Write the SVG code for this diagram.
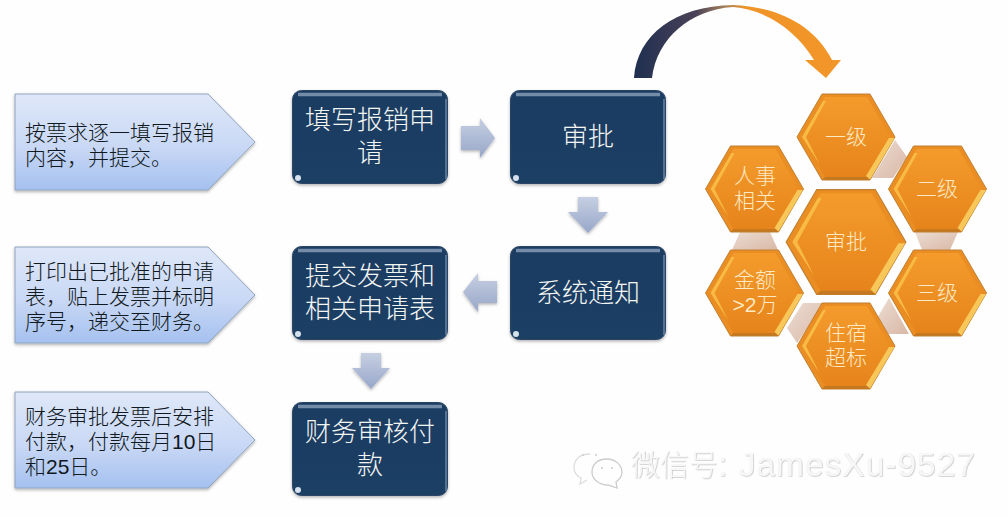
<svg xmlns="http://www.w3.org/2000/svg" width="1008" height="517" viewBox="0 0 1008 517">
<style>
text{font-family:"Liberation Sans","Noto Sans CJK SC",sans-serif;text-anchor:middle}
.b{fill:#f4f6f4;font-size:26px;font-weight:300}
.p{fill:#101820;font-size:21px;text-anchor:start;font-weight:300}
.h{fill:#fde9c4;font-size:21px;font-weight:300}
.w{fill:#f7f7f7;font-size:29px;font-weight:300;text-anchor:start;filter:url(#em)}
.wl{font-size:33.500px;letter-spacing:1px}
.link{fill:url(#lk)}
.ar{fill:url(#ag);filter:url(#s)}
.bx{fill:url(#bg);stroke:#2a4566;stroke-width:1;filter:url(#s)}
.pn{fill:url(#pg);stroke:#8fa4bd;stroke-width:1;filter:url(#s)}
</style>
<defs>
<linearGradient id="bg" x1="0" y1="0" x2="0" y2="1"><stop offset="0" stop-color="#1f3d62"/><stop offset="1" stop-color="#1e3f63"/></linearGradient>
<linearGradient id="pg" x1="0" y1="0" x2="0" y2="1"><stop offset="0" stop-color="#dfe8f9"/><stop offset=".55" stop-color="#c9d8f5"/><stop offset="1" stop-color="#a5c1f0"/></linearGradient>
<linearGradient id="ag" x1="0" y1="0" x2="0" y2="1"><stop offset="0" stop-color="#c6cfe2"/><stop offset="1" stop-color="#98a7c9"/></linearGradient>
<linearGradient id="lk" x1="0" y1="0" x2="1" y2="1"><stop offset="0" stop-color="#ecdcd2"/><stop offset="1" stop-color="#d9b8a6"/></linearGradient>
<linearGradient id="cv" gradientUnits="userSpaceOnUse" x1="634" y1="0" x2="842" y2="0"><stop offset="0" stop-color="#1f2f50"/><stop offset=".3" stop-color="#4a4258"/><stop offset=".44" stop-color="#a8835c"/><stop offset=".54" stop-color="#ef9428"/><stop offset="1" stop-color="#f3962a"/></linearGradient>
<linearGradient id="hg" x1="0" y1="0" x2="0" y2="1"><stop offset="0" stop-color="#f49b2c"/><stop offset="1" stop-color="#e6841b"/></linearGradient>
<filter id="s" x="-10%" y="-10%" width="120%" height="125%"><feDropShadow dx="0" dy="1.5" stdDeviation="1.5" flood-color="#000" flood-opacity=".3"/></filter>
<filter id="em" x="-2%" y="-10%" width="104%" height="120%"><feDropShadow dx=".6" dy=".6" stdDeviation=".25" flood-color="#aaa" flood-opacity=".8"/></filter>
<g id="hex">
<polygon points="-49,0 -24,-43 24,-43 49,0 24,43 -24,43" fill="#ea8d22" stroke="#c08032" stroke-width="1"/>
<polygon points="-44,0 -21,-40 21,-40 44,0 21,40 -21,40" fill="url(#hg)"/>
<polygon points="-44,0 -23,-36 -20,-36 -40,0 -26,28" fill="#f9c24a" opacity=".85"/>
<polygon points="48.500,1 24,42.500 20,39 43,1" fill="#f8c75a"/>
<polygon points="-24,43 24,43 21,40 -21,40" fill="#c4781f"/>
</g>
<g id="gloss">
<path d="M5 3.500H149" stroke="#8aa0b9" stroke-width="3.500" opacity=".8"/>
<path d="M153 8V88" stroke="#6d89a8" stroke-width="2" opacity=".7"/>
<circle cx="5" cy="87" r="3" fill="#d5e2ee"/>
</g>
</defs>
<rect width="1008" height="517" fill="#fefefe"/>
<g id="connectors">
<polygon class="link" points="895,140 907,157 893,178 872,178"/>
<polygon class="link" points="915,232 958,232 950,250 922,250"/>
<polygon class="link" points="889,298 876,320 885,334 909,334"/>
<polygon class="link" points="803,303 825,303 797,343 787,328"/>
<polygon class="link" points="740,232 770,232 778,250 732,250"/>
<polygon class="ar" points="461,126 480,126 480,118 495,138 480,158 480,150 461,150"/>
<polygon class="ar" points="578,197 598,197 598,212 608,212 588,233 568,212 578,212"/>
<polygon class="ar" points="497,281 478,281 478,273 463,292 478,312 478,303 497,303"/>
<polygon class="ar" points="361,353 381,353 381,368 390,368 371,389 352,368 361,368"/>
<path d="M634 78C637 35 675 6 733 5C782 7 816 28 832 60L841 60L826 78L805 60L814 60C797 32 768 10 733 7C690 10 657 38 652 78Z" fill="url(#cv)"/>
</g>
<g id="note1"><polygon class="pn" points="15,94 208,94 255,142 208,190 15,190"/><text class="p" y="140"><tspan x="25">按票求逐一填写报销</tspan><tspan x="25" dy="25">内容，并提交。</tspan></text></g>
<g id="note2"><polygon class="pn" points="15,247 208,247 255,295 208,343 15,343"/><text class="p" y="279"><tspan x="25">打印出已批准的申请</tspan><tspan x="25" dy="25">表，贴上发票并标明</tspan><tspan x="25" dy="25">序号，递交至财务。</tspan></text></g>
<g id="note3"><polygon class="pn" points="15,392 208,392 255,440 208,488 15,488"/><text class="p" y="424"><tspan x="25">财务审批发票后安排</tspan><tspan x="25" dy="25">付款，付款每月10日</tspan><tspan x="25" dy="25">和25日。</tspan></text></g>
<g id="box1"><rect class="bx" x="292.500" y="90.500" width="155" height="93" rx="9"/><use href="#gloss" x="293" y="91"/><text class="b" y="129"><tspan x="370">填写报销申</tspan><tspan x="370" dy="33">请</tspan></text></g>
<g id="box2"><rect class="bx" x="510.500" y="90.500" width="155" height="93" rx="9"/><use href="#gloss" x="511" y="91"/><text class="b" x="588" y="146">审批</text></g>
<g id="box3"><rect class="bx" x="510.500" y="246.500" width="155" height="93" rx="9"/><use href="#gloss" x="511" y="247"/><text class="b" x="588" y="302">系统通知</text></g>
<g id="box4"><rect class="bx" x="292.500" y="246.500" width="155" height="93" rx="9"/><use href="#gloss" x="293" y="247"/><text class="b" y="285"><tspan x="370">提交发票和</tspan><tspan x="370" dy="33">相关申请表</tspan></text></g>
<g id="box5"><rect class="bx" x="292.500" y="402.500" width="155" height="93" rx="9"/><use href="#gloss" x="293" y="403"/><text class="b" y="441"><tspan x="370">财务审核付</tspan><tspan x="370" dy="33">款</tspan></text></g>
<g id="hex-center"><use href="#hex" transform="translate(846 242) scale(1.22)"/><text class="h" x="846" y="249">审批</text></g>
<g id="hex1"><use href="#hex" transform="translate(846 137)"/><text class="h" x="846" y="144">一级</text></g>
<g id="hex2"><use href="#hex" transform="translate(937.500 189)"/><text class="h" x="937" y="196">二级</text></g>
<g id="hex3"><use href="#hex" transform="translate(937.500 293)"/><text class="h" x="937" y="300">三级</text></g>
<g id="hex4"><use href="#hex" transform="translate(846 346)"/><text class="h" y="340"><tspan x="846">住宿</tspan><tspan x="846" dy="25">超标</tspan></text></g>
<g id="hex5"><use href="#hex" transform="translate(754.500 293)"/><text class="h" y="287"><tspan x="755">金额</tspan><tspan x="755" dy="25">&gt;2万</tspan></text></g>
<g id="hex6"><use href="#hex" transform="translate(754.500 189)"/><text class="h" y="183"><tspan x="755">人事</tspan><tspan x="755" dy="25">相关</tspan></text></g>
<g id="watermark">
<path d="M590 454C578 454 574 461 574 468C574 473 577 476 581 478L580 484L587 480" fill="none" stroke="#ddd" stroke-width="1.300"/>
<path d="M607 459C596 459 592 466 592 472C592 480 600 485 608 485L617 488L616 482C620 479 622 476 622 472C622 465 615 459 607 459Z" fill="#fefefe" stroke="#ccc" stroke-width="1.300"/>
<circle cx="583" cy="455" r="1" fill="#ccc"/><circle cx="596" cy="455" r="1" fill="#ccc"/><circle cx="602" cy="468" r="1" fill="#ccc"/><circle cx="612" cy="468" r="1" fill="#ccc"/>
<text class="w" x="631" y="476">微信号<tspan class="wl">: JamesXu-9527</tspan></text>
</g>
</svg>
